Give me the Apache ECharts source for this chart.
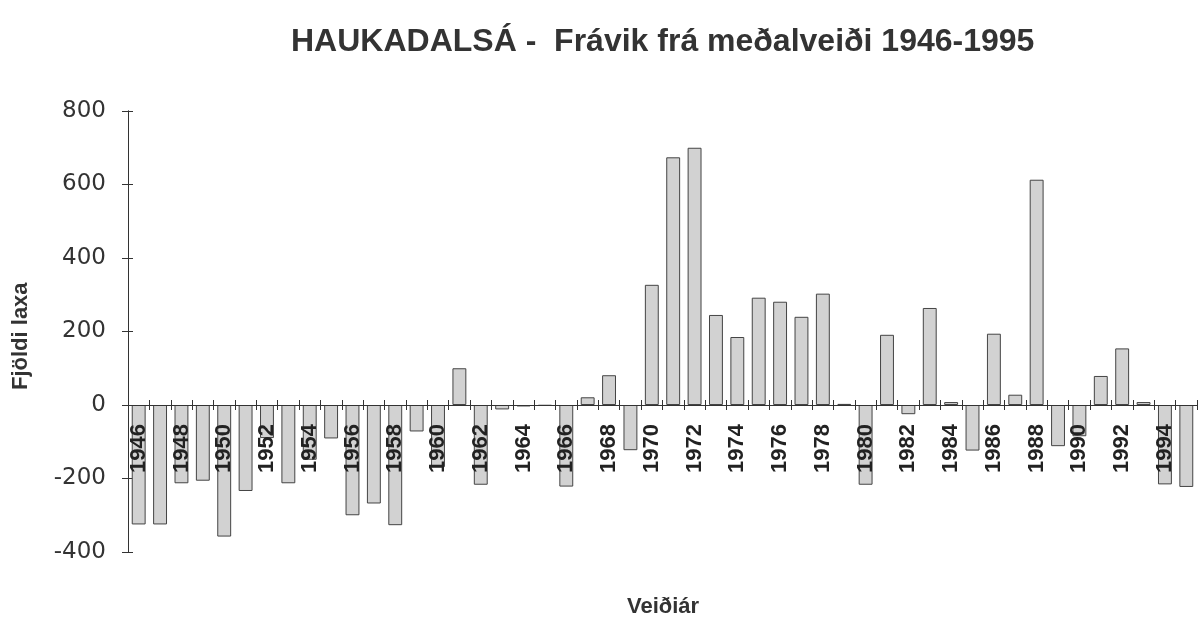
<!DOCTYPE html>
<html>
<head>
<meta charset="utf-8">
<script src="https://cdn.jsdelivr.net/npm/echarts@6/dist/echarts.min.js"></script>
<style>
html,body{margin:0;padding:0;background:#fff;}
#chart{width:1199px;height:625px;}
</style>
</head>
<body>
<div id="chart"></div>
<script>
const years = ["1946","1947","1948","1949","1950","1951","1952","1953","1954","1955",
  "1956","1957","1958","1959","1960","1961","1962","1963","1964","1965",
  "1966","1967","1968","1969","1970","1971","1972","1973","1974","1975",
  "1976","1977","1978","1979","1980","1981","1982","1983","1984","1985",
  "1986","1987","1988","1989","1990","1991","1992","1993","1994","1995"];
const deviation = [-325,-325,-213,-206,-358,-234,-90,-213,-149,-91,
  -300,-268,-327,-72,-169,100,-217,-12,-4,-2,
  -222,21,81,-123,327,674,700,245,185,292,
  281,240,303,3,-217,191,-25,264,8,-124,
  194,28,613,-112,-85,79,154,8,-216,-223];
const yMin = -400, yMax = 800, yStep = 200;
const titleText = "HAUKADALSÁ -  Frávik frá meðalveiði 1946-1995";
const xName = "Veiðiár";
const yName = "Fjöldi laxa";

const gridTop = 111, gridBottom = 73, H = 625;
const plotH = H - gridTop - gridBottom;
// distance from the bottom of the plot up to the zero line
const zeroLift = plotH * (0 - yMin) / (yMax - yMin);

const chart = echarts.init(document.getElementById('chart'), null, {renderer:'canvas'});
const axisColor = '#333';
const yAxisBase = {
  type:'value', min:yMin, max:yMax, interval:yStep, position:'left',
  splitLine:{show:false},
  axisLine:{show:true, lineStyle:{color:axisColor, width:1}},
};
const xAxisBase = {
  type:'category', data:years, boundaryGap:true, position:'bottom',
  offset:-zeroLift,
  axisLine:{show:true, onZero:false, lineStyle:{color:axisColor, width:1}},
  splitLine:{show:false}
};
chart.setOption({
  backgroundColor:'#fff',
  animation:false,
  title:{
    text:titleText, left:286, top:21,
    textStyle:{fontFamily:'Liberation Sans', fontWeight:'bold', fontSize:32, color:'#333'}
  },
  grid:{left:128, right:2, top:gridTop, bottom:gridBottom, containLabel:false},
  xAxis:[
    Object.assign({}, xAxisBase, {
      z:5,
      axisTick:{show:true, length:5, interval:0, lineStyle:{color:axisColor}},
      axisLabel:{show:true, interval:1, rotate:90, margin:19,
        fontFamily:'Liberation Sans', fontWeight:'bold', fontSize:22, color:'#222'}
    }),
    Object.assign({}, xAxisBase, {
      z:5,
      axisTick:{show:true, inside:true, length:5, interval:0, lineStyle:{color:axisColor}},
      axisLabel:{show:false}
    })
  ],
  yAxis:[
    Object.assign({}, yAxisBase, {
      axisTick:{show:true, length:6, lineStyle:{color:axisColor}},
      axisLabel:{show:true, margin:22, fontFamily:'DejaVu Sans', fontSize:23, color:'#333'}
    }),
    Object.assign({}, yAxisBase, {
      axisTick:{show:true, inside:true, length:5, lineStyle:{color:axisColor}},
      axisLabel:{show:false}
    })
  ],
  graphic:[
    {type:'text', left:627, top:596,
      style:{text:xName, font:'bold 22px "Liberation Sans"', fill:'#333'}},
    {type:'text', x:10, y:390, rotation:Math.PI/2,
      style:{text:yName, font:'bold 22px "Liberation Sans"', fill:'#333'}}
  ],
  series:[{
    type:'bar', data:deviation, xAxisIndex:0, yAxisIndex:0,
    barCategoryGap:'35%',
    itemStyle:{color:'#d2d2d2', borderColor:'#444', borderWidth:1},
    z:2
  }]
});
</script>
</body>
</html>
